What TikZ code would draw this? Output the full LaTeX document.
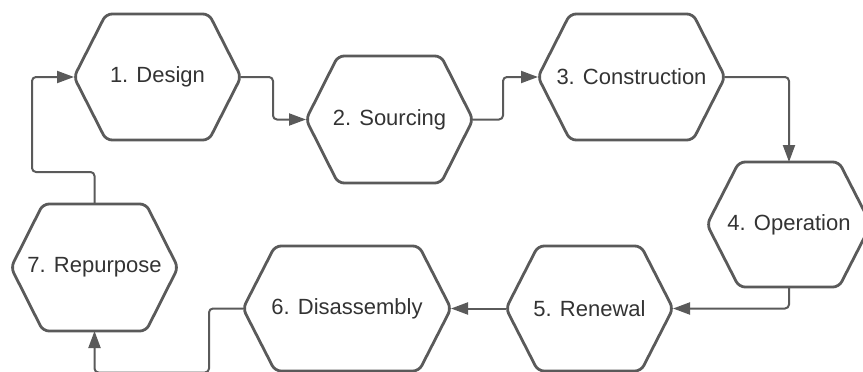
\documentclass[tikz,border=0pt]{standalone}
\usepackage{fontspec}
\setmainfont{Liberation Sans}
\usetikzlibrary{arrows.meta}
\definecolor{hexgray}{HTML}{5A5A5A}
\definecolor{txtgray}{HTML}{333333}
\tikzset{
  hexbox/.style={draw=none, inner sep=0pt, outer sep=0pt, rectangle,
    minimum height=126pt, text=txtgray, font=\fontsize{22}{26}\selectfont},
  hexline/.style={draw=hexgray, line width=2.8pt, rounded corners=6pt, line join=round},
  conn/.style={draw=hexgray, line width=2pt, rounded corners=4pt,
    -{Triangle[length=17pt,width=12pt]}}
}
\newcommand{\hexdraw}[1]{%
  \draw[hexline] (#1.west) -- ([xshift=32pt]#1.north west) -- ([xshift=-32pt]#1.north east)
    -- (#1.east) -- ([xshift=-32pt]#1.south east) -- ([xshift=32pt]#1.south west) -- cycle;}
\begin{document}
\begin{tikzpicture}[x=1pt,y=-1pt]
\useasboundingbox (0,0) rectangle (863,372);
\clip (0,0) rectangle (863,372);
\node[hexbox, minimum width=167pt] (d1) at (157.5,77) {1. Design};
\node[hexbox, minimum width=167pt, minimum height=127pt] (d2) at (389.5,119.5) {2. Sourcing};
\node[hexbox, minimum width=187pt] (d3) at (631.5,77) {3. Construction};
\node[hexbox, minimum width=164pt, minimum height=125pt] (d4) at (789,224.5) {4. Operation};
\node[hexbox, minimum width=167pt, minimum height=125pt] (d5) at (589.5,308.5) {5. Renewal};
\node[hexbox, minimum width=208pt, minimum height=125pt] (d6) at (347,308.5) {6. Disassembly};
\node[hexbox, minimum width=167pt, minimum height=127pt] (d7) at (94.5,267.5) {7. Repurpose};
\hexdraw{d1}\hexdraw{d2}\hexdraw{d3}\hexdraw{d4}\hexdraw{d5}\hexdraw{d6}\hexdraw{d7}
\draw[conn] (d1.east) -- ++(32,0) |- (d2.west);
\draw[conn] (d2.east) -- ++(30,0) |- (d3.west);
\draw[conn] (d3.east) -| (d4.north);
\draw[conn] (d4.south) |- (d5.east);
\draw[conn] (d5.west) -- (d6.east);
\draw[conn] (d6.west) -- ++(-34,0) -- ++(0,64) -| (d7.south);
\draw[conn] (d7.north) -- ++(0,-32) -| ([xshift=-42pt]d1.west) -- (d1.west);
\end{tikzpicture}
\end{document}
